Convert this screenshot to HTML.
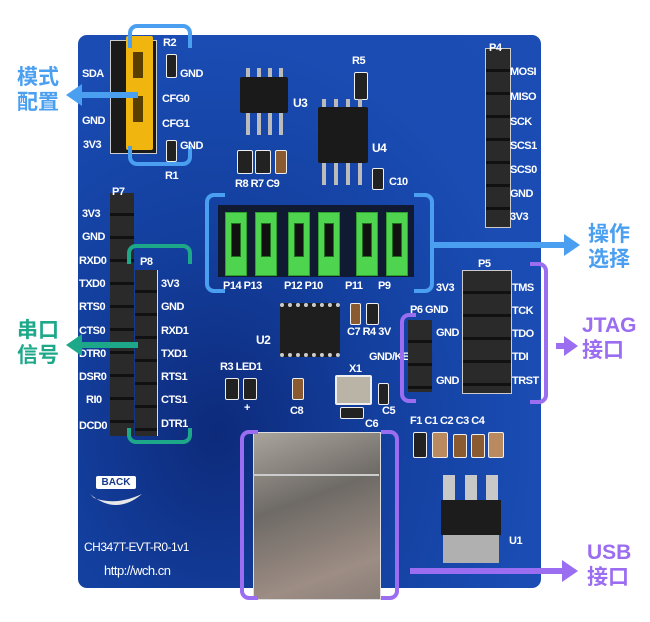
<!DOCTYPE html>
<html><head><meta charset="utf-8"><style>
body{margin:0;width:650px;height:622px;background:#fff;position:relative;overflow:hidden;font-family:"Liberation Sans",sans-serif}
.a{position:absolute}
.board{left:78px;top:35px;width:463px;height:553px;border-radius:9px;background:radial-gradient(ellipse at 30% 72%,#0d2a7a 0%,#133f9e 35%,#1a4cb3 70%,#1b4db4 100%)}
.t{position:absolute;color:#fff;font-size:11px;font-weight:bold;letter-spacing:-0.5px;white-space:nowrap}
.blk{position:absolute;background:#1c1c1e;border:1px solid #e8e8e8}
.hp{background:repeating-linear-gradient(180deg,#2a2a2a 0 20px,#111 20px 23px)}
.cn{position:absolute;font-family:"Liberation Sans","Noto Sans CJK SC",sans-serif;font-weight:bold;font-size:21px;line-height:25px}
.jmp{position:absolute;width:20px;height:62px;background:#4fd44f;border:1px solid #2fa02f}
.jmp:after{content:"";position:absolute;left:5px;top:10px;width:8px;height:32px;background:#111;border:1px solid #1f6f1f}
.sm{position:absolute;border:1.5px solid #eee;border-radius:2px;background:#222}
.br{position:absolute;border:4px solid;border-radius:9px}
</style></head><body>
<div class="a board"></div>

<!-- top-left jumper area -->
<div class="blk" style="left:110px;top:40px;width:45px;height:112px;border-color:#ccc;background:#1a1a1a"></div>
<div class="a" style="left:126px;top:36px;width:27px;height:114px;background:#f1b510;border-radius:2px"></div>
<div class="a" style="left:133px;top:52px;width:10px;height:26px;background:#5a3e00"></div>
<div class="a" style="left:133px;top:96px;width:10px;height:26px;background:#5a3e00"></div>
<div class="br" style="left:128px;top:24px;width:56px;height:20px;border-color:#4a9ff0;border-bottom:none;border-radius:9px 9px 0 0"></div>
<div class="br" style="left:128px;top:146px;width:56px;height:16px;border-color:#4a9ff0;border-top:none;border-radius:0 0 9px 9px"></div>
<div class="t" style="left:82px;top:68px">SDA</div>
<div class="t" style="left:82px;top:115px">GND</div>
<div class="t" style="left:83px;top:139px">3V3</div>
<div class="t" style="left:163px;top:37px">R2</div>
<div class="sm" style="left:166px;top:54px;width:9px;height:22px"></div>
<div class="t" style="left:180px;top:68px">GND</div>
<div class="t" style="left:162px;top:93px">CFG0</div>
<div class="t" style="left:162px;top:118px">CFG1</div>
<div class="sm" style="left:166px;top:140px;width:9px;height:20px"></div>
<div class="t" style="left:180px;top:140px">GND</div>
<div class="t" style="left:165px;top:170px">R1</div>
<svg class="a" style="left:66px;top:84px" width="76" height="22"><rect x="12" y="8" width="60" height="6" fill="#4a9ff0"/><polygon points="0,11 16,0 16,22" fill="#4a9ff0"/></svg>
<div class="cn" style="left:17px;top:65px;color:#4a9ff0">模式<br>配置</div>

<!-- U3 U4 R5 -->
<div class="a" style="left:240px;top:77px;width:48px;height:36px;background:#1a1a1a;border-radius:2px"></div>
<div class="a" style="left:246px;top:68px;width:38px;height:9px;background:repeating-linear-gradient(90deg,#bbb 0 4px,transparent 4px 11px)"></div>
<div class="a" style="left:246px;top:113px;width:38px;height:22px;background:repeating-linear-gradient(90deg,#bbb 0 4px,transparent 4px 11px)"></div>
<div class="t" style="left:293px;top:96px;font-size:12px">U3</div>
<div class="t" style="left:352px;top:55px">R5</div>
<div class="sm" style="left:354px;top:72px;width:12px;height:26px"></div>
<div class="a" style="left:318px;top:107px;width:50px;height:56px;background:#1a1a1a;border-radius:2px"></div>
<div class="a" style="left:322px;top:99px;width:42px;height:8px;background:repeating-linear-gradient(90deg,#bbb 0 4px,transparent 4px 12px)"></div>
<div class="a" style="left:322px;top:163px;width:42px;height:22px;background:repeating-linear-gradient(90deg,#bbb 0 4px,transparent 4px 12px)"></div>
<div class="t" style="left:372px;top:141px;font-size:12px">U4</div>
<div class="sm" style="left:372px;top:168px;width:10px;height:20px"></div>
<div class="t" style="left:389px;top:176px">C10</div>
<div class="sm" style="left:237px;top:150px;width:14px;height:22px"></div>
<div class="sm" style="left:255px;top:150px;width:14px;height:22px"></div>
<div class="sm" style="left:275px;top:150px;width:10px;height:22px;background:#8a5a30"></div>
<div class="t" style="left:235px;top:178px">R8 R7 C9</div>

<!-- P4 -->
<div class="blk hp" style="left:485px;top:48px;width:24px;height:178px;border-color:#ccc"></div>
<div class="t" style="left:489px;top:42px">P4</div>
<div class="t" style="left:510px;top:66px">MOSI</div>
<div class="t" style="left:510px;top:91px">MISO</div>
<div class="t" style="left:510px;top:116px">SCK</div>
<div class="t" style="left:510px;top:140px">SCS1</div>
<div class="t" style="left:510px;top:164px">SCS0</div>
<div class="t" style="left:510px;top:188px">GND</div>
<div class="t" style="left:510px;top:211px">3V3</div>

<!-- green jumpers -->
<div class="a" style="left:218px;top:205px;width:196px;height:72px;background:#111a33"></div>
<div class="jmp" style="left:225px;top:212px"></div>
<div class="jmp" style="left:255px;top:212px"></div>
<div class="jmp" style="left:288px;top:212px"></div>
<div class="jmp" style="left:318px;top:212px"></div>
<div class="jmp" style="left:356px;top:212px"></div>
<div class="jmp" style="left:386px;top:212px"></div>
<div class="t" style="left:223px;top:280px">P14 P13</div>
<div class="t" style="left:284px;top:280px">P12 P10</div>
<div class="t" style="left:345px;top:280px">P11</div>
<div class="t" style="left:378px;top:280px">P9</div>
<div class="br" style="left:205px;top:193px;width:16px;height:92px;border-color:#4a9ff0;border-right:none;border-radius:9px 0 0 9px"></div>
<div class="br" style="left:414px;top:193px;width:16px;height:92px;border-color:#4a9ff0;border-left:none;border-radius:0 9px 9px 0"></div>
<svg class="a" style="left:432px;top:234px" width="148" height="22"><rect x="0" y="8" width="132" height="6" fill="#4a9ff0"/><polygon points="148,11 132,0 132,22" fill="#4a9ff0"/></svg>
<div class="cn" style="left:588px;top:222px;color:#4a9ff0">操作<br>选择</div>

<!-- left headers -->
<div class="blk hp" style="left:110px;top:193px;width:24px;height:243px;border:none"></div>
<div class="blk hp" style="left:135px;top:270px;width:22px;height:166px;border:none;border-right:1px solid #ddd"></div>
<div class="t" style="left:112px;top:186px">P7</div>
<div class="t" style="left:140px;top:256px">P8</div>
<div class="t" style="left:82px;top:208px">3V3</div>
<div class="t" style="left:82px;top:231px">GND</div>
<div class="t" style="left:79px;top:255px">RXD0</div>
<div class="t" style="left:79px;top:278px">TXD0</div>
<div class="t" style="left:79px;top:301px">RTS0</div>
<div class="t" style="left:79px;top:325px">CTS0</div>
<div class="t" style="left:79px;top:348px">DTR0</div>
<div class="t" style="left:79px;top:371px">DSR0</div>
<div class="t" style="left:86px;top:394px">RI0</div>
<div class="t" style="left:79px;top:420px">DCD0</div>
<div class="t" style="left:161px;top:278px">3V3</div>
<div class="t" style="left:161px;top:301px">GND</div>
<div class="t" style="left:161px;top:325px">RXD1</div>
<div class="t" style="left:161px;top:348px">TXD1</div>
<div class="t" style="left:161px;top:371px">RTS1</div>
<div class="t" style="left:161px;top:394px">CTS1</div>
<div class="t" style="left:161px;top:418px">DTR1</div>
<div class="br" style="left:127px;top:244px;width:57px;height:16px;border-color:#1ea88a;border-bottom:none;border-radius:9px 9px 0 0"></div>
<div class="br" style="left:127px;top:428px;width:57px;height:12px;border-color:#1ea88a;border-top:none;border-radius:0 0 9px 9px"></div>
<svg class="a" style="left:66px;top:334px" width="72" height="22"><rect x="12" y="8" width="60" height="6" fill="#1ea88a"/><polygon points="0,11 16,0 16,22" fill="#1ea88a"/></svg>
<div class="cn" style="left:17px;top:318px;color:#1ea88a">串口<br>信号</div>

<!-- U2 and small -->
<div class="a" style="left:280px;top:303px;width:60px;height:46px;background:#1e1e1e;border-top:4px dotted #ccc;border-bottom:4px dotted #ccc"></div>
<div class="t" style="left:256px;top:333px;font-size:12px">U2</div>
<div class="sm" style="left:350px;top:303px;width:9px;height:20px;background:#8a5a30"></div>
<div class="sm" style="left:366px;top:303px;width:11px;height:20px"></div>
<div class="t" style="left:347px;top:326px">C7 R4 3V</div>
<div class="t" style="left:369px;top:351px">GND/KE</div>
<div class="t" style="left:349px;top:363px">X1</div>
<div class="a" style="left:335px;top:375px;width:33px;height:26px;background:#b9b4a6;border:2px solid #eee;border-radius:2px"></div>
<div class="sm" style="left:378px;top:383px;width:9px;height:20px"></div>
<div class="t" style="left:382px;top:405px">C5</div>
<div class="sm" style="left:340px;top:407px;width:22px;height:10px"></div>
<div class="t" style="left:365px;top:418px">C6</div>
<div class="t" style="left:220px;top:361px">R3 LED1</div>
<div class="sm" style="left:225px;top:378px;width:12px;height:20px"></div>
<div class="sm" style="left:243px;top:378px;width:12px;height:20px"></div>
<div class="t" style="left:244px;top:402px">+</div>
<div class="sm" style="left:292px;top:378px;width:10px;height:20px;background:#8a5a30"></div>
<div class="t" style="left:290px;top:405px">C8</div>

<!-- P5 P6 -->
<div class="blk hp" style="left:462px;top:270px;width:48px;height:122px;border-color:#ccc"></div>
<div class="t" style="left:478px;top:258px">P5</div>
<div class="blk hp" style="left:408px;top:320px;width:24px;height:72px;border:none"></div>
<div class="t" style="left:410px;top:304px">P6 GND</div>
<div class="t" style="left:436px;top:282px">3V3</div>
<div class="t" style="left:436px;top:327px">GND</div>
<div class="t" style="left:436px;top:375px">GND</div>
<div class="t" style="left:512px;top:282px">TMS</div>
<div class="t" style="left:512px;top:305px">TCK</div>
<div class="t" style="left:512px;top:328px">TDO</div>
<div class="t" style="left:512px;top:351px">TDI</div>
<div class="t" style="left:512px;top:375px">TRST</div>
<div class="br" style="left:400px;top:313px;width:12px;height:82px;border-color:#9b6df0;border-right:none;border-radius:9px 0 0 9px"></div>
<div class="br" style="left:530px;top:262px;width:14px;height:134px;border-color:#9b6df0;border-left:none;border-radius:0 9px 9px 0"></div>
<svg class="a" style="left:556px;top:336px" width="22" height="20"><rect x="0" y="7" width="10" height="6" fill="#9b6df0"/><polygon points="22,10 8,0 8,20" fill="#9b6df0"/></svg>
<div class="cn" style="left:582px;top:313px;color:#9b6df0">JTAG<br>接口</div>

<!-- F1 C1-4, U1 -->
<div class="t" style="left:410px;top:415px">F1 C1 C2 C3 C4</div>
<div class="sm" style="left:413px;top:432px;width:12px;height:24px"></div>
<div class="sm" style="left:432px;top:432px;width:14px;height:24px;background:#b98a60"></div>
<div class="sm" style="left:453px;top:434px;width:12px;height:22px;background:#8a5a30"></div>
<div class="sm" style="left:471px;top:434px;width:12px;height:22px;background:#8a5a30"></div>
<div class="sm" style="left:488px;top:432px;width:14px;height:24px;background:#b98a60"></div>
<div class="a" style="left:443px;top:475px;width:12px;height:25px;background:#c8c8c8"></div>
<div class="a" style="left:465px;top:475px;width:12px;height:25px;background:#c8c8c8"></div>
<div class="a" style="left:486px;top:475px;width:12px;height:25px;background:#c8c8c8"></div>
<div class="a" style="left:441px;top:500px;width:60px;height:35px;background:#1c1c1c"></div>
<div class="a" style="left:443px;top:535px;width:56px;height:28px;background:#b0b0b0"></div>
<div class="t" style="left:509px;top:535px">U1</div>

<!-- bottom-left text -->
<div class="a" style="left:96px;top:476px;width:40px;height:13px;background:#fff;border-radius:2px;font-size:10px;font-weight:bold;text-align:center;line-height:13px;color:#1a3a8a">BACK</div>
<svg class="a" style="left:86px;top:490px" width="60" height="22"><path d="M4 4 Q30 26 56 4 Q30 16 8 8 Z" fill="#e8e8e8"/></svg>
<div class="t" style="left:84px;top:540px;font-size:12px;font-weight:normal">CH347T-EVT-R0-1v1</div>
<div class="t" style="left:104px;top:563px;font-size:13px;font-weight:normal">http://wch.cn</div>

<!-- USB -->
<div class="a" style="left:253px;top:432px;width:126px;height:166px;background:linear-gradient(160deg,#a9a49c,#6e6a66 40%,#9d8d84 80%,#8a7f78);border:1px solid #ddd"></div>
<div class="a" style="left:253px;top:474px;width:126px;height:2px;background:#ccc"></div>
<div class="br" style="left:240px;top:430px;width:14px;height:162px;border-color:#9b6df0;border-right:none;border-radius:9px 0 0 9px"></div>
<div class="br" style="left:381px;top:430px;width:14px;height:162px;border-color:#9b6df0;border-left:none;border-radius:0 9px 9px 0"></div>
<svg class="a" style="left:410px;top:560px" width="168" height="22"><rect x="0" y="8" width="152" height="6" fill="#9b6df0"/><polygon points="168,11 152,0 152,22" fill="#9b6df0"/></svg>
<div class="cn" style="left:587px;top:540px;color:#9b6df0">USB<br>接口</div>
</body></html>
